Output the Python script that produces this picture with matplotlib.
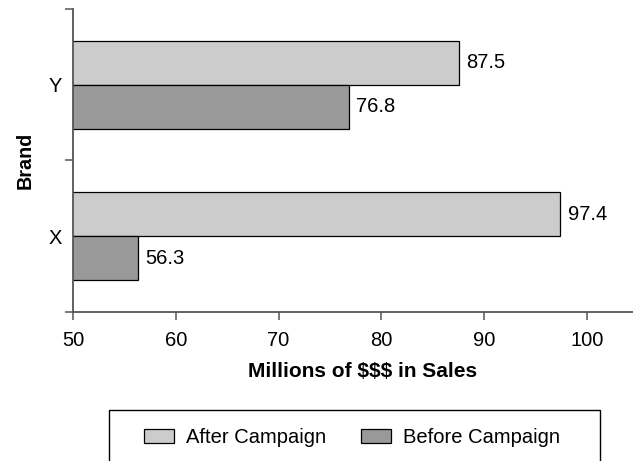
import matplotlib.pyplot as plt
import matplotlib.patches as mpatches
import numpy as np

plt.rcParams['font.family'] = ['Liberation Sans', 'DejaVu Sans']

# Sales per brand, before and after the campaign
brands = ["X", "Y"]
after = [97.4, 87.5]
before = [56.3, 76.8]

after_color = "#cccccc"
before_color = "#999999"
axis_color = "#555555"

fig = plt.figure(figsize=(6.33, 4.61), dpi=100)
ax = fig.add_axes([73 / 633, 1 - 312 / 461, 560 / 633, 303 / 461])

y = np.arange(len(brands))
h = 0.29
bars_after = ax.barh(y + h / 2, after, height=h, left=0, color=after_color,
                     edgecolor="black", linewidth=0.9, label="After Campaign")
bars_before = ax.barh(y - h / 2, before, height=h, color=before_color,
                      edgecolor="black", linewidth=0.9, label="Before Campaign")

for bars, vals in [(bars_after, after), (bars_before, before)]:
    for b, v in zip(bars, vals):
        ax.annotate(f"{v:.1f}", (v, b.get_y() + b.get_height() / 2),
                    xytext=(5.5, 0), textcoords="offset points",
                    ha="left", va="center", fontsize=14.5)

ax.set_xlim(50, 104.47)
ax.set_ylim(-0.5, len(brands) - 0.5)
ax.set_xticks([50, 60, 70, 80, 90, 100])

# tick marks sit between the categories, labels at the category centres
ax.set_yticks([-0.5, 0.5, 1.5])
ax.set_yticklabels([])
ax.set_yticks(y, minor=True)
ax.set_yticklabels(brands, minor=True)
ax.tick_params(axis="y", which="minor", length=0, pad=8, labelsize=14.5)
ax.tick_params(axis="y", which="major", length=6, width=1.1, color=axis_color)
ax.tick_params(axis="x", length=6, width=1.1, color=axis_color, pad=8,
               labelsize=14.5)

for side in ["top", "right"]:
    ax.spines[side].set_visible(False)
for side in ["left", "bottom"]:
    ax.spines[side].set_color(axis_color)
    ax.spines[side].set_linewidth(1.3)

ax.set_xlabel("Millions of $$$ in Sales", fontsize=15, fontweight="bold",
              va="center")
ax.xaxis.set_label_coords(0.517, -0.196)
ax.set_ylabel("Brand", fontsize=14.2, fontweight="bold", labelpad=10)

# legend frame runs off the bottom edge
frame = mpatches.Rectangle((109 / 633, -0.1), 491 / 633, 0.1 + 51 / 461,
                           transform=fig.transFigure, facecolor="white",
                           edgecolor="black", linewidth=1.0)
fig.patches.append(frame)
fig.legend(handles=[bars_after, bars_before], loc="center",
           bbox_to_anchor=(352 / 633, 1 - 437.5 / 461), ncol=2,
           frameon=False, fontsize=14.5, handlelength=1.48, handleheight=0.74,
           handletextpad=0.6, columnspacing=1.72)

fig.savefig("out.png", dpi=100)
